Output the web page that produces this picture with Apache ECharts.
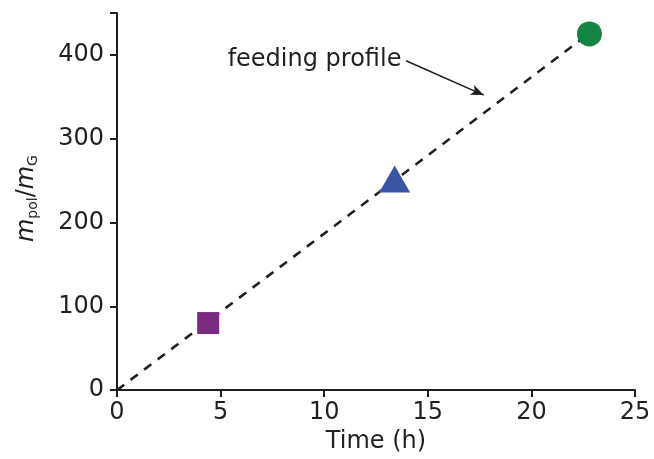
<!DOCTYPE html>
<html>
<head>
<meta charset="utf-8">
<script src="https://cdn.jsdelivr.net/npm/echarts@6/dist/echarts.min.js"></script>
<style>
  html, body { margin: 0; padding: 0; background: #fff; }
  #chart { width: 654px; height: 459px; }
</style>
</head>
<body>
<div id="chart"></div>
<script>
// feeding profile line (time h, m_pol/m_G)
const profileLine = [[0, 0], [23.4, 437]]
// measured samples
const squarePt = [[4.4, 80]]
const trianglePt = [[13.4, 252]]
const circlePt = [[22.8, 425]]
// annotation
const noteText = 'feeding profile'
const noteAnchor = [13.75, 394]
const arrowFrom = [13.95, 393]
const arrowTo = [17.7, 352]

const ink = '#231F20'
const font = 'DejaVu Sans, Verdana, sans-serif'

const chart = echarts.init(document.getElementById('chart'))

chart.setOption({
  animation: false,
  grid: { left: 117, right: 19, top: 13, bottom: 67 },
  xAxis: {
    type: 'value',
    min: 0,
    max: 25,
    interval: 5,
    name: 'Time (h)',
    nameLocation: 'middle',
    nameGap: 38,
    nameTextStyle: { color: ink, fontSize: 24, fontFamily: font },
    axisLine: { lineStyle: { color: ink, width: 2 } },
    axisTick: { lineStyle: { color: ink, width: 2 }, length: 7 },
    axisLabel: { color: ink, fontSize: 24, fontFamily: font, margin: 11 },
    splitLine: { show: false }
  },
  yAxis: {
    type: 'value',
    min: 0,
    max: 450,
    interval: 100,
    name: '{i|m}{s|pol}{n|/}{i|m}{s|G}',
    nameLocation: 'middle',
    nameGap: 77,
    nameRotate: 90,
    nameTextStyle: {
      color: ink,
      fontFamily: font,
      padding: [0, 0, 0, 6],
      rich: {
        i: { fontSize: 24, fontStyle: 'italic', color: ink, fontFamily: font },
        n: { fontSize: 24, color: ink, fontFamily: font },
        s: { fontSize: 14, color: ink, fontFamily: font, padding: [13, 0, 0, 0] }
      }
    },
    axisLine: { show: true, lineStyle: { color: ink, width: 2 } },
    axisTick: { show: true, lineStyle: { color: ink, width: 2 }, length: 7 },
    axisLabel: {
      color: ink, fontSize: 24, fontFamily: font, margin: 13,
      formatter: v => (v % 100 === 0 ? String(v) : '')
    },
    splitLine: { show: false }
  },
  series: [
    {
      type: 'line',
      data: profileLine,
      symbol: 'none',
      lineStyle: { color: ink, width: 2.6, type: [9, 8] },
      z: 2
    },
    {
      type: 'scatter',
      data: squarePt,
      symbol: 'rect',
      symbolSize: 22,
      itemStyle: { color: '#7B2A82', opacity: 1 },
      z: 3
    },
    {
      type: 'scatter',
      data: trianglePt,
      symbol: 'triangle',
      symbolSize: [31, 27],
      itemStyle: { color: '#3A55A4', opacity: 1 },
      z: 3
    },
    {
      type: 'scatter',
      data: circlePt,
      symbol: 'circle',
      symbolSize: 25,
      itemStyle: { color: '#138443', opacity: 1 },
      z: 3
    },
    {
      type: 'scatter',
      data: [noteAnchor],
      symbolSize: 1,
      itemStyle: { color: 'rgba(0,0,0,0)', opacity: 1 },
      label: {
        show: true,
        position: 'left',
        distance: 0,
        formatter: noteText,
        color: ink,
        fontSize: 24,
        fontFamily: font
      },
      markLine: {
        silent: true,
        symbol: ['none', 'arrow'],
        symbolSize: [8, 13],
        label: { show: false },
        lineStyle: { color: ink, width: 1.6, type: 'solid', opacity: 1 },
        data: [[{ coord: arrowFrom }, { coord: arrowTo }]]
      },
      z: 4
    }
  ]
})
</script>
</body>
</html>
